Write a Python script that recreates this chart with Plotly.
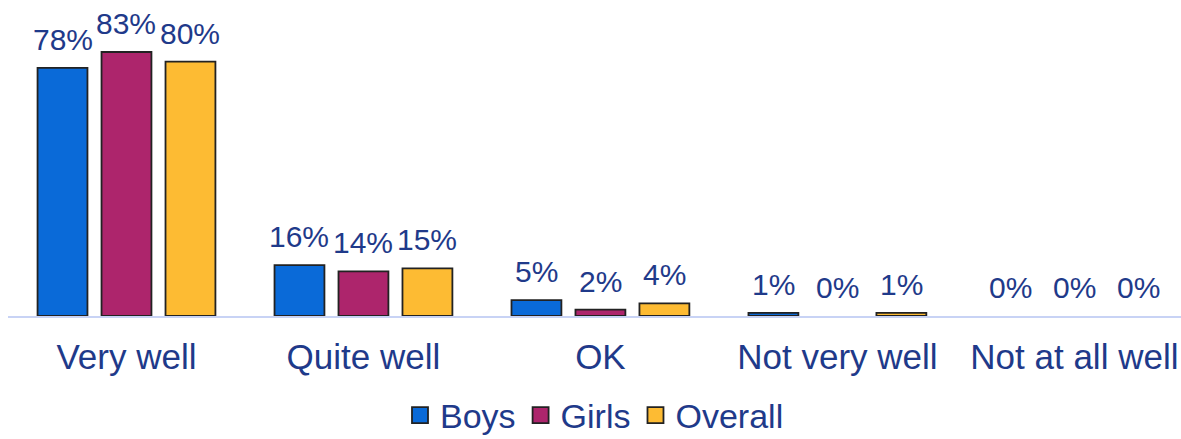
import plotly.graph_objects as go

categories = ["Very well", "Quite well", "OK", "Not very well", "Not at all well"]
boys = [78, 16, 5, 1, 0]
girls = [83, 14, 2, 0, 0]
overall = [80, 15, 4, 1, 0]

series = [
    ("Boys", boys, "#0a6ad8"),
    ("Girls", girls, "#ad256c"),
    ("Overall", overall, "#fdbb33"),
]

label_col = "#1f3a8a"
font = "Liberation Sans, Arial, sans-serif"
bargap = 0.19
slot = (1 - bargap) / len(series)

fig = go.Figure()
for i, (name, vals, col) in enumerate(series):
    fig.add_trace(go.Bar(
        x=categories, y=vals, name=name, showlegend=False,
        marker=dict(color=col, line=dict(color="#222222", width=[1.8 if v > 0 else 0 for v in vals])),
    ))
    # legend entry with a bigger square
    fig.add_trace(go.Scatter(
        x=[None], y=[None], mode="markers", name=name,
        marker=dict(symbol="square", size=17, color=col, line=dict(color="#222222", width=1.8)),
    ))
    # value labels above the bars
    for j, v in enumerate(vals):
        fig.add_annotation(
            x=j + (i - 1) * slot, y=v, xref="x", yref="y",
            text=f"{v}%", showarrow=False, yanchor="bottom", yshift=10,
            font=dict(size=30, color=label_col, family=font),
        )

fig.update_layout(
    width=1181, height=439,
    margin=dict(l=8, r=0, t=10, b=123, autoexpand=False),
    plot_bgcolor="white", paper_bgcolor="white",
    barmode="group", bargap=bargap, bargroupgap=0.22,
    legend=dict(orientation="h", x=0.5, xanchor="center", y=-0.325, yanchor="middle",
                font=dict(size=34, color=label_col, family=font), itemwidth=30,
                traceorder="normal", tracegroupgap=0),
)
fig.update_xaxes(range=[-0.5, 4.45], showline=True, linecolor="#c8d3f5", linewidth=1.5,
                 tickfont=dict(size=35, color=label_col, family=font), ticks="",
                 automargin=False, ticklabelstandoff=9)
fig.update_yaxes(range=[0, 96.2], visible=False, showgrid=False, automargin=False)

# drop the browser's default page margin so the figure fills the window
fig.write_html("out.html", config={"displayModeBar": False},
               post_script="document.body.style.margin='0';document.body.style.overflow='hidden';")
